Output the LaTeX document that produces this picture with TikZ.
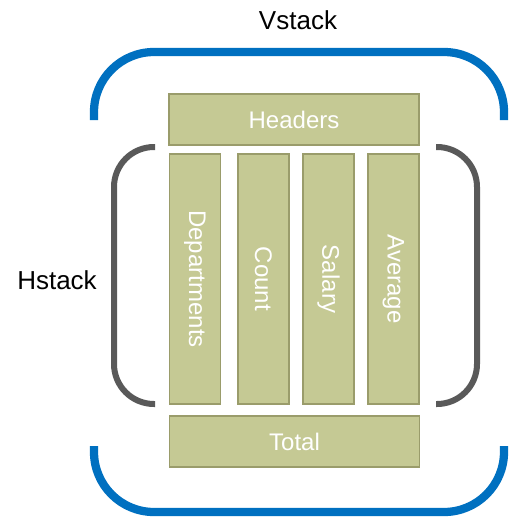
\documentclass[tikz,border=0pt]{standalone}
\usepackage{fontspec}
\setmainfont{Liberation Sans}
\usetikzlibrary{positioning}
\definecolor{boxfill}{HTML}{C5C994}
\definecolor{boxline}{HTML}{9A9C6B}
\definecolor{vblue}{HTML}{0070C0}
\definecolor{hgray}{HTML}{595959}

\begin{document}
\begin{tikzpicture}[x=0.75pt, y=-0.75pt,
  cell/.style={draw=boxline, line width=0.9pt, fill=boxfill, text=white,
    font=\fontsize{18}{20}\selectfont, inner sep=0pt,
    minimum width=187.5pt, minimum height=38.25pt},
  colcell/.style={cell, rotate=-90},
  stacklabel/.style={font=\fontsize{19.5}{22}\selectfont, inner sep=0pt},
  vbracket/.style={draw=vblue, line width=6.2pt, rounded corners=45pt},
  hbracket/.style={draw=hgray, line width=4.5pt, rounded corners=30pt}]
  \useasboundingbox (0,0) rectangle (509,517);

  % Rows
  \node[cell] (headers) at (294,119.5) {Headers};
  \node[cell] (total) at (294.5,441.5) {Total};

  % Columns
  \node[colcell] (dept) at (195,279) {Departments};
  \node[colcell] (count) at (263.5,279) {Count};
  \node[colcell] (salary) at (328.5,279) {Salary};
  \node[colcell] (avg) at (393.5,279) {Average};

  % Vstack
  \draw[vbracket] (94,120) |- (504,52) -- (504,120);
  \draw[vbracket] (94,446) |- (504,512) -- (504,446);
  \node[stacklabel] (vlabel) at (298,20) {Vstack};

  % Hstack
  \draw[hbracket] (155,147) -| (114,404) -- (155,404);
  \draw[hbracket] (436,147) -| (477,404) -- (436,404);
  \node[stacklabel] (hlabel) at (57,280) {Hstack};
\end{tikzpicture}
\end{document}
